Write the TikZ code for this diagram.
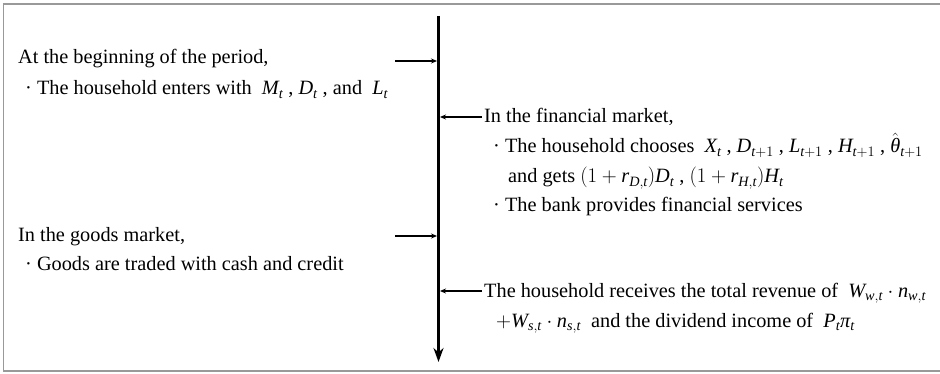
\documentclass[tikz,border=0pt]{standalone}
\usepackage{amsmath}
\usepackage{fontspec}
\setmainfont{Liberation Serif}
\usetikzlibrary{arrows.meta}
\newcommand\mi[1]{\textit{#1}}
\begin{document}
\begin{tikzpicture}[x=1pt,y=-1pt,
  txt/.style={anchor=base west, inner sep=0pt, font=\fontsize{20.3}{24}\selectfont},
  thinarrow/.style={line width=1.3pt, -{Stealth[length=6pt,width=5pt]}}]
\useasboundingbox (0,0) rectangle (940,374);
\draw[black!40, line width=1.6pt] (941,4) -- (3.5,4) -- (3.5,371) -- (941,371);
\coordinate (top) at (438.5,16);
\coordinate (bot) at (438.5,362);
\draw[line width=3pt, -{Stealth[length=14pt,width=10pt]}] (top) -- (bot);
% left texts
\node[txt] (l1) at (18,64) {At the beginning of the period,};
\node[txt] (l2) at (25,95) {\textperiodcentered\ The household enters with \ $\mi{M}_{\mi{t}}$ , $\mi{D}_{\mi{t}}$ , and \ $\mi{L}_{\mi{t}}$};
\node[txt] (l3) at (18,242) {In the goods market,};
\node[txt] (l4) at (25,271) {\textperiodcentered\ Goods are traded with cash and credit};
% right texts
\node[txt] (r1) at (484,123) {In the financial market,};
\node[txt] (r2) at (493,153) {\textperiodcentered\ The household chooses \ $\mi{X}_{\mi{t}}$ , $\mi{D}_{\mi{t}+1}$ , $\mi{L}_{\mi{t}+1}$ , $\mi{H}_{\mi{t}+1}$ , $\hat{\mi{θ}}_{\mi{t}+1}$};
\node[txt] (r3) at (508,183) {and gets $(1+\mi{r}_{\mi{D},\mi{t}})\mi{D}_{\mi{t}}$ , $(1+\mi{r}_{\mi{H},\mi{t}})\mi{H}_{\mi{t}}$};
\node[txt] (r4) at (493,212) {\textperiodcentered\ The bank provides financial services};
\node[txt] (r5) at (484,297) {The household receives the total revenue of \ $\mi{W}_{\mi{w},\mi{t}}\cdot \mi{n}_{\mi{w},\mi{t}}$};
\node[txt] (r6) at (496,327) {$+\mi{W}_{\mi{s},\mi{t}}\cdot \mi{n}_{\mi{s},\mi{t}}$ \ and the dividend income of \ $\mi{P}_{\mi{t}}\mi{π}_{\mi{t}}$};
% arrows
\coordinate (a1s) at (395,61);  \coordinate (a1e) at (437,61);
\coordinate (a2s) at (482,117); \coordinate (a2e) at (440,117);
\coordinate (a3s) at (395,236); \coordinate (a3e) at (437,236);
\coordinate (a4s) at (482,291); \coordinate (a4e) at (440,291);
\draw[thinarrow] (a1s) -- (a1e);
\draw[thinarrow] (a2s) -- (a2e);
\draw[thinarrow] (a3s) -- (a3e);
\draw[thinarrow] (a4s) -- (a4e);
\end{tikzpicture}
\end{document}
